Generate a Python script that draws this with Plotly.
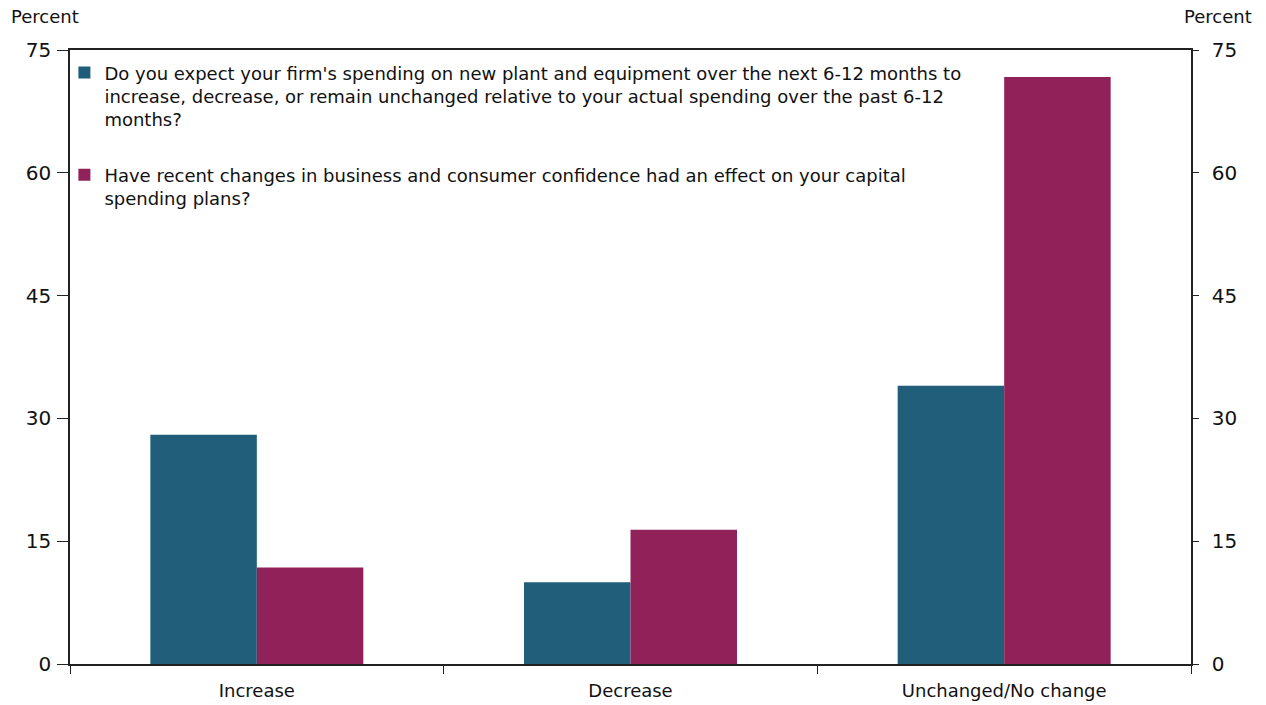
import plotly.graph_objects as go

categories = ["Increase", "Decrease", "Unchanged/No change"]
series1_name = "Do you expect your firm's spending on new plant and equipment over the next 6-12 months to<br>increase, decrease, or remain unchanged relative to your actual spending over the past 6-12<br>months?"
series2_name = "Have recent changes in business and consumer confidence had an effect on your capital<br>spending plans?"
series1_values = [28.0, 10.0, 34.0]
series2_values = [11.8, 16.4, 71.7]
y_ticks = [0, 15, 30, 45, 60, 75]

BLUE = "#215E79"
MAGENTA = "#912259"
FONT = "DejaVu Sans"
TXT = "#111111"

fig = go.Figure()
fig.add_trace(go.Bar(x=categories, y=series1_values, name=series1_name,
                     marker=dict(color=BLUE, line=dict(width=0)), legendgroup="a"))
fig.add_trace(go.Bar(x=categories, y=series2_values, name=series2_name,
                     marker=dict(color=MAGENTA, line=dict(width=0)), legendgroup="b"))
# invisible trace to anchor the right axis
fig.add_trace(go.Scatter(x=categories, y=series1_values, yaxis="y2", mode="markers",
                         marker=dict(opacity=0), showlegend=False, hoverinfo="skip"))

yfont = dict(family=FONT, size=20, color=TXT)
fig.update_layout(
    width=1266, height=705,
    margin=dict(l=70, r=75, t=50, b=41, autoexpand=False),
    plot_bgcolor="white", paper_bgcolor="white",
    barmode="group", bargap=0.43, bargroupgap=0,
    font=dict(family=FONT, size=18, color=TXT),
    showlegend=True,
    legend=dict(x=-0.005, y=0.993, xanchor="left", yanchor="top",
                bgcolor="rgba(0,0,0,0)", font=dict(family=FONT, size=18, color=TXT),
                tracegroupgap=29, valign="top", itemwidth=30),
    xaxis=dict(showline=True, linecolor="#222222", linewidth=1.5, mirror=True,
               ticks="outside", tickson="boundaries", ticklen=8, tickcolor="#222222",
               tickfont=dict(family=FONT, size=18, color=TXT), ticklabelstandoff=10,
               showgrid=False, zeroline=False, automargin=False),
    yaxis=dict(range=[0, 75], tickvals=y_ticks, showline=True, linecolor="#222222", linewidth=1.5,
               ticks="outside", ticklen=11, tickcolor="#222222", tickfont=yfont,
               ticklabelstandoff=2, showgrid=False, zeroline=False, automargin=False),
    yaxis2=dict(range=[0, 75], tickvals=y_ticks, overlaying="y", side="right", showline=True,
                linecolor="#222222", linewidth=1.5, ticks="outside", ticklen=6, tickcolor="#222222",
                tickfont=yfont, ticklabelstandoff=9, showgrid=False, zeroline=False, automargin=False),
    annotations=[
        dict(text="Percent", xref="paper", yref="paper", x=-0.0545, y=1.055, xanchor="left",
             yanchor="middle", showarrow=False, font=dict(family=FONT, size=18, color=TXT)),
        dict(text="Percent", xref="paper", yref="paper", x=1.0565, y=1.055, xanchor="right",
             yanchor="middle", showarrow=False, font=dict(family=FONT, size=18, color=TXT)),
    ],
)

fig.write_html("out.html")
